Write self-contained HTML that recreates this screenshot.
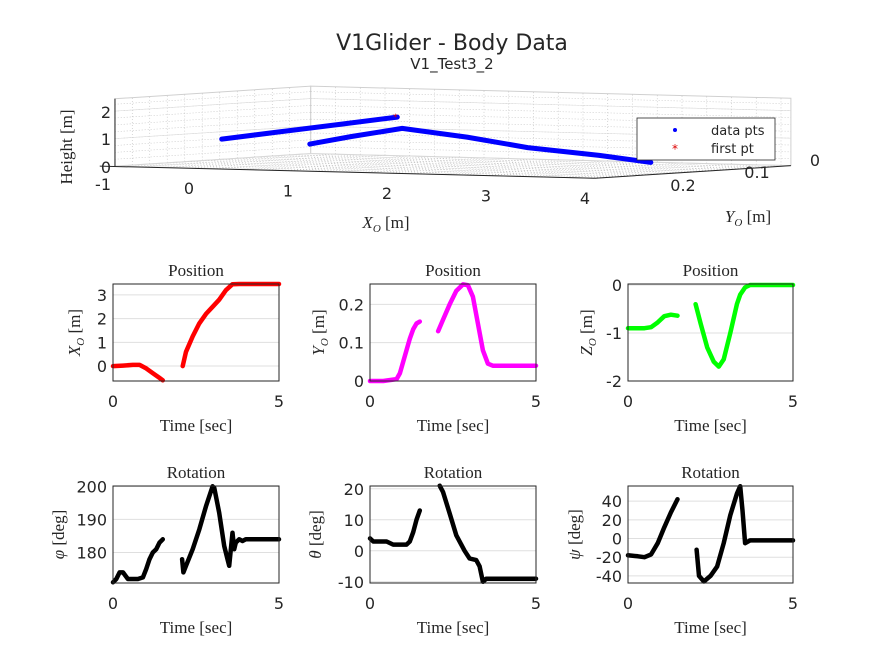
<!DOCTYPE html>
<html><head><meta charset="utf-8"><style>
body{margin:0;background:#fff}
svg{display:block;font-family:"DejaVu Sans","Liberation Sans",sans-serif}
.serif{font-family:"Liberation Serif","DejaVu Serif",serif}
</style></head><body>
<svg id="fig" width="875" height="656" viewBox="0 0 875 656" xmlns="http://www.w3.org/2000/svg">
<rect width="875" height="656" fill="#fff"/>
<g id="g3d"></g>
<text x="452" y="50" font-size="22" text-anchor="middle" fill="#262626">V1Glider - Body Data</text>
<text x="452" y="69" font-size="15" text-anchor="middle" fill="#262626">V1_Test3_2</text>
<g id="subs"></g>
</svg>
<script>
// ---------- 3D trajectory data (x, y, height) ----------
const trajAx = [0.33, 0.8, 1.3, 1.75];
const trajAy = [0.25, 0.24, 0.22, 0.2];
const trajAh = [1.08, 1.35, 1.65, 1.93];
const trajBx = [1.22, 1.5, 1.8, 2.1, 2.36, 2.8, 3.18];
const trajBy = [0.25, 0.23, 0.2, 0.15, 0.1, 0.06, 0.04];
const trajBh = [0.98, 1.25, 1.52, 1.15, 0.71, 0.4, 0.15];
const xTicks3 = [0, 1, 2, 3, 4];
const yTicks3 = [0.2, 0.1, 0];
const hTicks3 = [-1, 0, 1, 2];

// ---------- subplot data ----------
const xT1 = [0, 0.3, 0.6, 0.8, 1.0, 1.2, 1.4, 1.5];
const xV1 = [0, 0.02, 0.05, 0.05, -0.1, -0.3, -0.5, -0.6];
const xT2 = [2.1, 2.2, 2.4, 2.6, 2.8, 3.0, 3.2, 3.4, 3.6, 3.8, 5];
const xV2 = [0.0, 0.6, 1.25, 1.8, 2.2, 2.5, 2.8, 3.2, 3.45, 3.46, 3.46];

const yT1 = [0, 0.4, 0.8, 0.9, 1.0, 1.1, 1.2, 1.3, 1.4, 1.5];
const yV1 = [0, 0, 0.005, 0.02, 0.05, 0.08, 0.11, 0.135, 0.15, 0.155];
const yT2 = [2.05, 2.2, 2.4, 2.6, 2.8, 2.95, 3.1, 3.25, 3.4, 3.55, 3.7, 5];
const yV2 = [0.13, 0.16, 0.2, 0.235, 0.252, 0.25, 0.22, 0.15, 0.08, 0.045, 0.04, 0.04];

const zT1 = [0, 0.5, 0.7, 0.9, 1.1, 1.3, 1.5];
const zV1 = [-0.9, -0.9, -0.88, -0.78, -0.65, -0.62, -0.64];
const zT2 = [2.05, 2.2, 2.4, 2.6, 2.75, 2.9, 3.1, 3.3, 3.4, 3.55, 3.7, 5];
const zV2 = [-0.4, -0.8, -1.3, -1.6, -1.7, -1.55, -1.0, -0.4, -0.2, -0.05, 0, 0];

const phT1 = [0, 0.1, 0.2, 0.3, 0.45, 0.6, 0.75, 0.9, 1.0, 1.1, 1.2, 1.3, 1.4, 1.5];
const phV1 = [171, 172, 174, 174, 172, 172, 172, 172.5, 175, 178, 180, 181, 183, 184];
const phT2 = [2.08, 2.12, 2.2, 2.4, 2.6, 2.8, 3.0, 3.05, 3.2, 3.35, 3.45, 3.5, 3.6, 3.65, 3.7, 3.8, 3.9, 4.0, 5];
const phV2 = [178, 174, 176, 181, 187, 194, 200, 199.5, 192, 182, 178, 176, 186, 181, 183, 184, 183.5, 184, 184];

const thT1 = [0, 0.1, 0.3, 0.5, 0.7, 0.9, 1.1, 1.2, 1.3, 1.4, 1.5];
const thV1 = [4, 3, 3, 3, 2, 2, 2, 3, 6, 10, 13];
const thT2 = [2.1, 2.2, 2.4, 2.6, 2.85, 3.0, 3.2, 3.3, 3.4, 3.5, 3.7, 5];
const thV2 = [21, 19, 12, 5, 0, -2.5, -3, -5, -10, -9, -9, -9];

const psT1 = [0, 0.3, 0.5, 0.7, 0.9, 1.1, 1.3, 1.5];
const psV1 = [-18, -19, -20, -17, -5, 12, 28, 42];
const psT2 = [2.08, 2.15, 2.3, 2.5, 2.7, 2.9, 3.1, 3.3, 3.4, 3.47, 3.55, 3.7, 5];
const psV2 = [-12, -40, -46, -40, -30, -5, 25, 48, 56, 30, -5, -2, -2];

const NS = "http://www.w3.org/2000/svg";
function mk(tag, attrs, parent) {
  const e = document.createElementNS(NS, tag);
  for (const k in attrs) e.setAttribute(k, attrs[k]);
  parent.appendChild(e);
  return e;
}

// ---------- 3D ----------
const g3 = document.getElementById('g3d');
function P(x, y, h) {
  return [189 + 99 * x + (0.25 - y) * 700, 168 + 2.5 * x + (0.25 - y) * (-45) - 27.5 * h];
}
const XMIN = -0.75, XMAX = 4.1, YF = 0.25, YB = -0.03, HMIN = 0, HMAX = 2.45;
function poly(pts, attrs) {
  return mk('polygon', Object.assign({points: pts.map(p => p.join(',')).join(' ')}, attrs), g3);
}
const floor = poly([P(XMIN, YF, 0), P(XMAX, YF, 0), P(XMAX, YB, 0), P(XMIN, YB, 0)], {fill: '#fff', stroke: '#d0d0d0'});


const wallL = poly([P(XMIN, YF, 0), P(XMIN, YB, 0), P(XMIN, YB, HMAX), P(XMIN, YF, HMAX)], {fill: '#fff', stroke: '#d0d0d0'});


const wallB = poly([P(XMIN, YB, 0), P(XMAX, YB, 0), P(XMAX, YB, HMAX), P(XMIN, YB, HMAX)], {fill: '#fff', stroke: '#d0d0d0'});


function gl(a, b, dash) {
  const l = mk('line', {x1: a[0], y1: a[1], x2: b[0], y2: b[1], stroke: dash ? '#bbb' : '#dcdcdc', 'stroke-width': 0.6, 'stroke-dasharray': dash ? '1,2' : ''}, g3);
  
  
}
for (let x = -0.5; x <= 4; x += 0.25) { gl(P(x, YF, 0), P(x, YB, 0), true); gl(P(x, YB, 0), P(x, YB, HMAX), true); }
for (let y = 0; y <= 0.25; y += 0.025) { gl(P(XMIN, y, 0), P(XMAX, y, 0), true); gl(P(XMIN, y, 0), P(XMIN, y, HMAX), true); }
for (let h = 0.25; h <= HMAX; h += 0.25) { gl(P(XMIN, YF, h), P(XMIN, YB, h), true); gl(P(XMIN, YB, h), P(XMAX, YB, h), true); }
for (const h of [0, 1, 2]) { gl(P(XMIN, YF, h), P(XMIN, YB, h), false); gl(P(XMIN, YB, h), P(XMAX, YB, h), false); }
const ax1 = mk('line', {x1: P(XMIN, YF, 0)[0] - 15, y1: P(XMIN, YF, 0)[1], x2: P(XMAX, YF, 0)[0], y2: P(XMAX, YF, 0)[1], stroke: '#262626'}, g3);


const ax2 = mk('line', {x1: P(XMAX, YF, 0)[0], y1: P(XMAX, YF, 0)[1], x2: P(XMAX, YB, 0)[0], y2: P(XMAX, YB, 0)[1], stroke: '#262626'}, g3);


const ax3 = mk('line', {x1: 115, y1: P(XMIN, YF, 0)[1], x2: 115, y2: P(XMIN, YF, HMAX)[1], stroke: '#262626'}, g3);


function txt(parent, x, y, s, size, anchor, cls, name, rot) {
  const t = mk('text', {x: x, y: y, 'font-size': size, 'text-anchor': anchor, fill: '#262626'}, parent);
  if (cls) t.setAttribute('class', cls);
  if (rot) t.setAttribute('transform', 'rotate(-90 ' + x + ' ' + y + ')');
  t.textContent = s;
  
  
  return t;
}
for (const x of xTicks3) { const p = P(x, YF, 0); txt(g3, p[0], p[1] + 26, String(x), 16, 'middle', '', 'x-tick-3d'); }
const yPos3 = {0.2: [683, 191], 0.1: [757, 178], 0: [815, 166]};
for (const y of yTicks3) { txt(g3, yPos3[y][0], yPos3[y][1], String(y), 16, 'middle', '', 'y-tick-3d'); }
const hPos3 = {'-1': 190, 0: 173, 1: 145, 2: 118};
for (const h of hTicks3) { txt(g3, 111, hPos3[h], String(h), 16, 'end', '', 'z-tick-3d'); }
const xl = txt(g3, 386, 228, '', 17, 'middle', 'serif', 'x-axis-title-3d');
xl.innerHTML = '<tspan font-style="italic">X</tspan><tspan font-style="italic" font-size="11" dy="4">O</tspan><tspan dy="-4"> [m]</tspan>';
const yl = txt(g3, 748, 222, '', 17, 'middle', 'serif', 'y-axis-title-3d');
yl.innerHTML = '<tspan font-style="italic">Y</tspan><tspan font-style="italic" font-size="11" dy="4">O</tspan><tspan dy="-4"> [m]</tspan>';
txt(g3, 72, 147, 'Height [m]', 17, 'middle', 'serif', 'z-axis-title-3d', true);
function path3(xs, ys, hs, name) {
  const d = xs.map((x, i) => { const p = P(x, ys[i], hs[i]); return (i ? 'L' : 'M') + p[0].toFixed(1) + ',' + p[1].toFixed(1); }).join(' ');
  const e = mk('path', {d: d, fill: 'none', stroke: '#0000ff', 'stroke-width': 5, 'stroke-linecap': 'round', 'stroke-linejoin': 'round'}, g3);
  
  
}
path3(trajAx, trajAy, trajAh, 'trajectory-segment-1');
path3(trajBx, trajBy, trajBh, 'trajectory-segment-2');
const fp = P(trajAx[3], trajAy[3], trajAh[3]);
const star = txt(g3, fp[0] - 2, fp[1] + 3, '*', 9, 'middle', '', 'first-point-marker');
star.setAttribute('fill', '#d00');
const lg = mk('g', {}, g3);


mk('rect', {x: 637, y: 118, width: 138, height: 42, fill: '#fff', stroke: '#262626', 'stroke-width': 0.8}, lg);
const ld = mk('circle', {cx: 675, cy: 130, r: 2, fill: '#0000ff'}, lg);


txt(lg, 711, 135, 'data pts', 13, 'start', '', 'legend-entry-data-pts');
const ls = txt(lg, 675, 153, '*', 12, 'middle', '', 'legend-marker-first-pt');
ls.setAttribute('fill', '#d00');
txt(lg, 711, 153, 'first pt', 13, 'start', '', 'legend-entry-first-pt');

// ---------- subplots ----------
const subs = document.getElementById('subs');
const cols = [[113, 279], [370, 536], [628, 793]];
const rows = [[284, 381], [486, 583]];
const specs = [
  {c: 0, r: 0, ylim: [-0.63, 3.46], ticks: [0, 1, 2, 3], color: '#ff0000', t: [xT1, xT2], v: [xV1, xV2], title: 'Position', lab: '<tspan font-style="italic">X</tspan><tspan font-style="italic" font-size="11" dy="4">O</tspan><tspan dy="-4"> [m]</tspan>', lx: 80, name: 'x-position'},
  {c: 1, r: 0, ylim: [0, 0.253], ticks: [0, 0.1, 0.2], color: '#ff00ff', t: [yT1, yT2], v: [yV1, yV2], title: 'Position', lab: '<tspan font-style="italic">Y</tspan><tspan font-style="italic" font-size="11" dy="4">O</tspan><tspan dy="-4"> [m]</tspan>', lx: 324, name: 'y-position'},
  {c: 2, r: 0, ylim: [-2, 0.02], ticks: [-2, -1, 0], color: '#00ff00', t: [zT1, zT2], v: [zV1, zV2], title: 'Position', lab: '<tspan font-style="italic">Z</tspan><tspan font-style="italic" font-size="11" dy="4">O</tspan><tspan dy="-4"> [m]</tspan>', lx: 592, name: 'z-position'},
  {c: 0, r: 1, ylim: [170.8, 200.1], ticks: [180, 190, 200], color: '#000000', t: [phT1, phT2], v: [phV1, phV2], title: 'Rotation', lab: '<tspan font-style="italic">φ</tspan><tspan> [deg]</tspan>', lx: 64, name: 'phi-rotation'},
  {c: 1, r: 1, ylim: [-10.4, 20.9], ticks: [-10, 0, 10, 20], color: '#000000', t: [thT1, thT2], v: [thV1, thV2], title: 'Rotation', lab: '<tspan font-style="italic">θ</tspan><tspan> [deg]</tspan>', lx: 321, name: 'theta-rotation'},
  {c: 2, r: 1, ylim: [-47.6, 56.2], ticks: [-40, -20, 0, 20, 40], color: '#000000', t: [psT1, psT2], v: [psV1, psV2], title: 'Rotation', lab: '<tspan font-style="italic">ψ</tspan><tspan> [deg]</tspan>', lx: 580, name: 'psi-rotation'}
];
for (const s of specs) {
  const [L, R] = cols[s.c], [T, B] = rows[s.r];
  const g = mk('g', {}, subs);
  
  
  const sx = t => L + (t / 5) * (R - L);
  const sy = v => B - (v - s.ylim[0]) / (s.ylim[1] - s.ylim[0]) * (B - T);
  mk('rect', {x: L, y: T, width: R - L, height: B - T, fill: '#fff'}, g);
  for (const tk of s.ticks) {
    const y = sy(tk);
    const gline = mk('line', {x1: L, y1: y, x2: R, y2: y, stroke: '#dfdfdf', 'stroke-width': 1}, g);
    
    
    txt(g, L - 6, y + 6, String(tk), 16, 'end', '', 'y-tick-label');
  }
  txt(g, L, B + 26, '0', 16, 'middle', '', 'x-tick-label');
  txt(g, R, B + 26, '5', 16, 'middle', '', 'x-tick-label');
  for (let k = 0; k < 2; k++) {
    const d = s.t[k].map((t, i) => (i ? 'L' : 'M') + sx(t).toFixed(1) + ',' + sy(s.v[k][i]).toFixed(1)).join(' ');
    const p = mk('path', {d: d, fill: 'none', stroke: s.color, 'stroke-width': 4.5, 'stroke-linecap': 'round', 'stroke-linejoin': 'round'}, g);
    
    
  }
  const box = mk('rect', {x: L, y: T, width: R - L, height: B - T, fill: 'none', stroke: '#262626', 'stroke-width': 1}, g);
  
  
  txt(g, (L + R) / 2, T - 8, s.title, 17, 'middle', 'serif', 'subplot-title');
  txt(g, (L + R) / 2, B + 50, 'Time [sec]', 17, 'middle', 'serif', 'x-axis-title');
  const yl2 = txt(g, s.lx, (T + B) / 2, '', 17, 'middle', 'serif', 'y-axis-title', true);
  yl2.innerHTML = s.lab;
}
</script>
</body></html>
